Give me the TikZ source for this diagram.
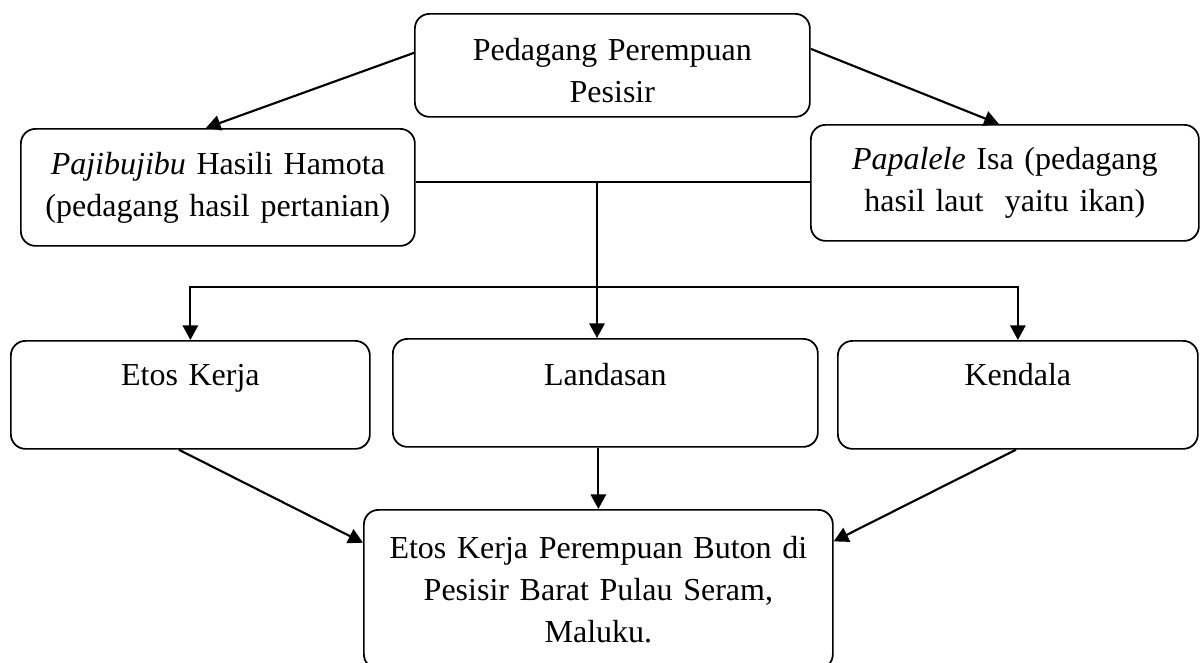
\documentclass[tikz,border=0pt]{standalone}
\usepackage{fontspec}
\setmainfont{Liberation Serif}
\usetikzlibrary{arrows.meta}

\tikzset{
  rbox/.style={draw, line width=1.3pt, rounded corners=11pt, inner sep=0pt,
    align=center, anchor=north west, font=\fontsize{24pt}{31.5pt}\selectfont},
  onebox/.style={rbox, text height=33.75pt, text depth=47.25pt},
  conn/.style={line width=1.6pt, ->},
}

\begin{document}
\begin{tikzpicture}[x=0.75pt,y=0.75pt,yscale=-1,xscale=1,>={Triangle[length=11pt,width=11.5pt]}]
\useasboundingbox (0,0) rectangle (1200,662);

%Shape: Rounded Rect, top
\node [rbox, text width=296.25pt, minimum height=77.25pt] (pedagang) at (414,13)
  {\rule{0pt}{24.75pt}Pedagang Perempuan\\Pesisir};
%Shape: Rounded Rect, left
\node [rbox, text width=295.5pt, minimum height=87.75pt] (hamota) at (20,128)
  {\textit{Pajibujibu} Hasili Hamota\\(pedagang hasil pertanian)};
%Shape: Rounded Rect, right
\node [rbox, text width=291pt, minimum height=87pt] (isa) at (810,124)
  {\textit{Papalele} Isa (pedagang\\hasil laut~ yaitu ikan)};

%Shape: Rounded Rect, middle row
\node [onebox, text width=269.25pt] (etos) at (10,340) {Etos Kerja};
\node [onebox, text width=318.75pt, text height=35.25pt, text depth=45.75pt] (landasan) at (392,338) {Landasan};
\node [onebox, text width=270pt] (kendala) at (837,340) {Kendala};

%Shape: Rounded Rect, bottom
\node [rbox, text width=351.75pt, minimum height=119.25pt] (buton) at (363,509)
  {Etos Kerja Perempuan Buton di\\Pesisir Barat Pulau Seram,\\Maluku.};

% Junctions
\coordinate (hub) at (597,182);
\coordinate (bar) at (597,287);

% Connectors (yscale=-1 flips yshift)
\draw [conn] ([yshift=-9.4pt]pedagang.west) -- ([xshift=-9pt]hamota.north);
\draw [conn] ([yshift=-12.4pt]pedagang.east) -- ([xshift=-4.5pt]isa.north);
\draw [line width=1.6pt] (hamota.east |- hub) -- (isa.west |- hub);
\draw [conn] (hub) -- (hub |- landasan.north);
\draw [conn, <->] (etos.north) |- (bar) -| (kendala.north);
\draw [conn] ([xshift=-8.6pt]etos.south) -- ([yshift=-35pt]buton.west);
\draw [conn] (buton.north |- landasan.south) -- (buton.north);
\draw [conn] ([xshift=-1.5pt]kendala.south) -- ([yshift=-36pt]buton.east);

\end{tikzpicture}
\end{document}
